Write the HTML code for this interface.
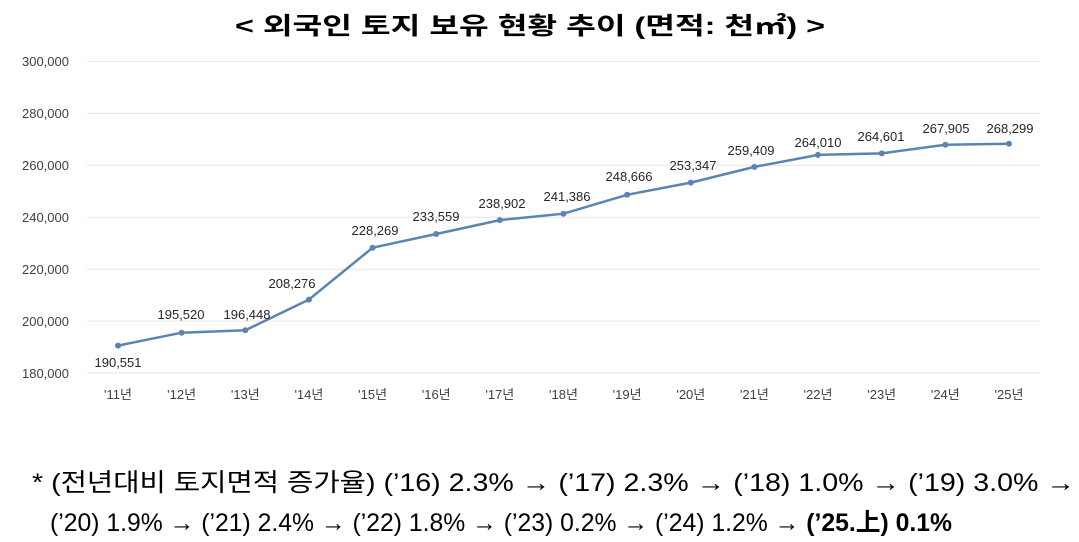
<!DOCTYPE html>
<html><head><meta charset="utf-8"><style>
html,body{margin:0;padding:0;background:#fff;}
svg{display:block;font-family:"Liberation Sans","Noto Sans CJK KR",sans-serif;}
</style></head><body>
<svg width="1079" height="542" viewBox="0 0 1079 542" xmlns="http://www.w3.org/2000/svg">
<text x="530" y="34" text-anchor="middle" font-size="24" font-weight="bold" fill="#000" textLength="590" lengthAdjust="spacingAndGlyphs">&lt; 외국인 토지 보유 현황 추이 (면적: 천㎡) &gt;</text>
<g stroke="#e6e6e6" stroke-width="1">
<line x1="87" x2="1040" y1="61.5" y2="61.5"/><line x1="87" x2="1040" y1="113.4" y2="113.4"/>
<line x1="87" x2="1040" y1="165.3" y2="165.3"/><line x1="87" x2="1040" y1="217.3" y2="217.3"/>
<line x1="87" x2="1040" y1="269.2" y2="269.2"/><line x1="87" x2="1040" y1="321.1" y2="321.1"/>
<line x1="87" x2="1040" y1="373" y2="373"/>
</g>
<g font-size="13" fill="#404040" text-anchor="end">
<text x="69" y="66">300,000</text><text x="69" y="118">280,000</text><text x="69" y="170">260,000</text>
<text x="69" y="222">240,000</text><text x="69" y="274">220,000</text><text x="69" y="326">200,000</text>
<text x="69" y="378">180,000</text>
</g>
<g font-size="13" fill="#404040" text-anchor="middle">
<text x="118" y="399">'11년</text><text x="181.6" y="399">'12년</text><text x="245.3" y="399">'13년</text>
<text x="308.9" y="399">'14년</text><text x="372.6" y="399">'15년</text><text x="436.2" y="399">'16년</text>
<text x="499.8" y="399">'17년</text><text x="563.5" y="399">'18년</text><text x="627.1" y="399">'19년</text>
<text x="690.8" y="399">'20년</text><text x="754.4" y="399">'21년</text><text x="818" y="399">'22년</text>
<text x="881.7" y="399">'23년</text><text x="945.3" y="399">'24년</text><text x="1009" y="399">'25년</text>
</g>
<polyline fill="none" stroke="#5b84b1" stroke-width="2.5" points="118,345.6 181.6,332.7 245.3,330.3 308.9,299.6 372.6,247.7 436.2,234 499.8,220.1 563.5,213.7 627.1,194.8 690.8,182.6 754.4,166.9 818,154.9 881.7,153.4 945.3,144.8 1009,143.8"/>
<g fill="#5b84b1">
<circle cx="118" cy="345.6" r="3"/><circle cx="181.6" cy="332.7" r="3"/><circle cx="245.3" cy="330.3" r="3"/>
<circle cx="308.9" cy="299.6" r="3"/><circle cx="372.6" cy="247.7" r="3"/><circle cx="436.2" cy="234" r="3"/>
<circle cx="499.8" cy="220.1" r="3"/><circle cx="563.5" cy="213.7" r="3"/><circle cx="627.1" cy="194.8" r="3"/>
<circle cx="690.8" cy="182.6" r="3"/><circle cx="754.4" cy="166.9" r="3"/><circle cx="818" cy="154.9" r="3"/>
<circle cx="881.7" cy="153.4" r="3"/><circle cx="945.3" cy="144.8" r="3"/><circle cx="1009" cy="143.8" r="3"/>
</g>
<g font-size="13" fill="#262626" text-anchor="middle">
<text x="118" y="367">190,551</text><text x="181" y="319">195,520</text><text x="247" y="319">196,448</text>
<text x="292" y="288">208,276</text><text x="375" y="235">228,269</text><text x="436" y="221">233,559</text>
<text x="502" y="208">238,902</text><text x="567" y="201">241,386</text><text x="629" y="181">248,666</text>
<text x="693" y="170">253,347</text><text x="751" y="155">259,409</text><text x="818" y="147">264,010</text>
<text x="881" y="141">264,601</text><text x="946" y="133">267,905</text><text x="1010" y="133">268,299</text>
</g>
<g font-size="25" fill="#000">
<text x="32" y="491" textLength="1043" lengthAdjust="spacingAndGlyphs">* (전년대비 토지면적 증가율) (’16) 2.3% → (’17) 2.3% → (’18) 1.0% → (’19) 3.0% →</text>
<text x="50" y="531" textLength="902" lengthAdjust="spacingAndGlyphs">(’20) 1.9% → (’21) 2.4% → (’22) 1.8% → (’23) 0.2% → (’24) 1.2% → <tspan font-weight="bold">(’25.上) 0.1%</tspan></text>
</g>
</svg>
</body></html>
